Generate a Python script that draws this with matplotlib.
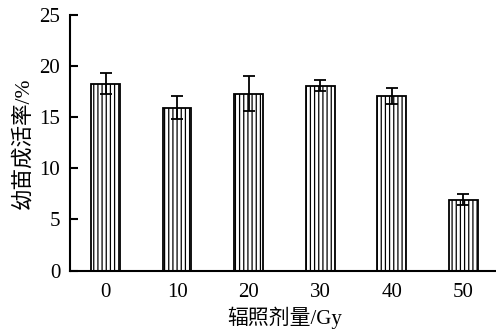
import numpy as np
import matplotlib.pyplot as plt

plt.rcParams['hatch.linewidth'] = 0.9

doses = ['0', '10', '20', '30', '40', '50']
survival = [18.3, 15.95, 17.3, 18.07, 17.1, 6.95]
errors = [1.05, 1.1, 1.7, 0.55, 0.78, 0.5]

fonts = ['Liberation Serif', 'Noto Sans CJK SC']

fig = plt.figure(figsize=(4.96, 3.34), dpi=100)
ax = fig.add_axes([0.141, 0.19, 0.865, 0.765])

x = np.arange(len(doses))
ax.bar(x, survival, width=0.4, color='white', edgecolor='black',
       linewidth=1.3, hatch='||||')
ax.errorbar(x, survival, yerr=errors, fmt='none', ecolor='black',
            elinewidth=1.3, capsize=4, capthick=1.3)

ax.set_xlim(-0.5, 5.5)
ax.set_ylim(0, 25)
ax.set_yticks([0, 5, 10, 15, 20, 25])
ax.set_xticks(x)
ax.set_xticklabels(doses)

for side in ['top', 'right']:
    ax.spines[side].set_visible(False)
for side in ['left', 'bottom']:
    ax.spines[side].set_linewidth(1.5)

ax.tick_params(axis='y', direction='in', length=6, width=1.5, pad=7)
ax.tick_params(axis='x', length=0, pad=9)
for lab in ax.get_xticklabels() + ax.get_yticklabels():
    lab.set_family(fonts)
    lab.set_fontsize(15)

ax.set_xlabel('辐照剂量/Gy', family=fonts, fontsize=15, labelpad=3)
ax.set_ylabel('幼苗成活率/%', family=fonts, fontsize=15.5, labelpad=4)

fig.savefig('out.png', dpi=100)
